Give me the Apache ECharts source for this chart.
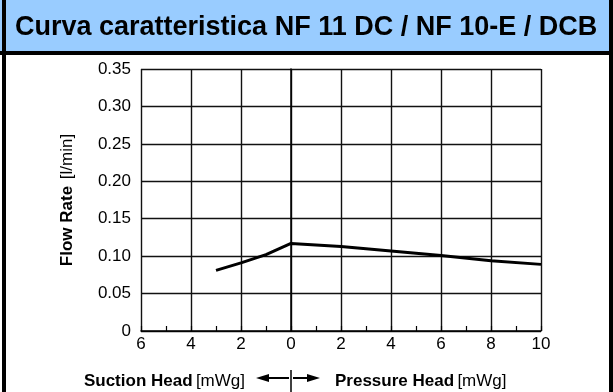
<!DOCTYPE html>
<html>
<head>
<meta charset="utf-8">
<script src="https://cdn.jsdelivr.net/npm/echarts@6/dist/echarts.min.js"></script>
<style>
html,body{margin:0;padding:0;background:#fff;}
#c{width:613px;height:392px;}
</style>
</head>
<body>
<div id="c"></div>
<script>
// Data
const headValues = [-3, -2, -1, 0, 2, 4, 6, 8, 10];          // negative = suction head, positive = pressure head [mWg]
const flowRates  = [0.081, 0.091, 0.102, 0.117, 0.113, 0.107, 0.101, 0.094, 0.089]; // [l/min]
const xTicks = [-6, -4, -2, 0, 2, 4, 6, 8, 10];
const yTicks = [0, 0.05, 0.10, 0.15, 0.20, 0.25, 0.30, 0.35];
const titleText = 'Curva caratteristica NF 11 DC / NF 10-E / DCB';

const FONT = 'Liberation Sans, Arial, Helvetica, sans-serif';
const chart = echarts.init(document.getElementById('c'), null, {renderer: 'canvas'});

chart.setOption({
  animation: false,
  backgroundColor: '#fff',
  title: {
    text: titleText,
    left: 10, top: 9,
    textStyle: {fontFamily: FONT, fontWeight: 'bold', fontSize: 27, color: '#000'}
  },
  grid: {left: 141, right: 72, top: 69, bottom: 61, containLabel: false},
  xAxis: {
    type: 'value',
    min: xTicks[0], max: xTicks[xTicks.length - 1], interval: 2,
    axisLine: {show: true, onZero: false, lineStyle: {color: '#000', width: 1.5}},
    axisTick: {show: true, inside: true, length: 5, lineStyle: {color: '#000', width: 1.2}},
    minorTick: {show: true, splitNumber: 2, length: 5, lineStyle: {color: '#000', width: 1.2}},
    splitLine: {show: true, lineStyle: {color: '#111', width: 1.4}},
    axisLabel: {fontFamily: FONT, fontSize: 17, color: '#000', margin: 5,
      formatter: v => String(Math.abs(v))}
  },
  yAxis: {
    type: 'value',
    min: yTicks[0], max: yTicks[yTicks.length - 1], interval: 0.05,
    name: '{b|Flow Rate}  {n|[l/min]}',
    nameLocation: 'middle', nameRotate: 90, nameGap: 65,
    nameTextStyle: {
      rich: {
        b: {fontFamily: FONT, fontWeight: 'bold', fontSize: 17, color: '#000'},
        n: {fontFamily: FONT, fontSize: 17, color: '#000'}
      }
    },
    axisLine: {show: true, lineStyle: {color: '#000', width: 1.5}},
    axisTick: {show: false},
    splitLine: {show: true, lineStyle: {color: '#111', width: 1.4}},
    axisLabel: {fontFamily: FONT, fontSize: 17, color: '#000', margin: 10,
      formatter: v => (v === 0 ? '0' : v.toFixed(2))}
  },
  series: [{
    type: 'line',
    data: headValues.map((h, i) => [h, flowRates[i]]),
    symbol: 'none',
    lineStyle: {color: '#000', width: 3},
    z: 5
  }],
  graphic: [
    {type: 'rect', z: -10, shape: {x: 0, y: 0, width: 613, height: 53}, style: {fill: '#99ccff'}},
    {type: 'rect', z: 10, shape: {x: 0, y: 51, width: 613, height: 4}, style: {fill: '#000'}},
    {type: 'rect', z: 10, shape: {x: 2, y: 0, width: 4, height: 392}, style: {fill: '#000'}},
    {type: 'rect', z: 10, shape: {x: 609, y: 0, width: 4, height: 392}, style: {fill: '#000'}},
    {type: 'text', z: 10, x: 245, y: 381,
      style: {text: '{b|Suction Head} {n|[mWg]}', align: 'right', verticalAlign: 'middle',
        rich: {b: {fontFamily: FONT, fontWeight: 'bold', fontSize: 17, fill: '#000'},
               n: {fontFamily: FONT, fontSize: 17, fill: '#000'}}}},
    {type: 'text', z: 10, x: 335, y: 381,
      style: {text: '{b|Pressure Head} {n|[mWg]}', align: 'left', verticalAlign: 'middle',
        rich: {b: {fontFamily: FONT, fontWeight: 'bold', fontSize: 17, fill: '#000'},
               n: {fontFamily: FONT, fontSize: 17, fill: '#000'}}}},
    {type: 'line', z: 10, shape: {x1: 291, y1: 370, x2: 291, y2: 392}, style: {stroke: '#000', lineWidth: 1.5}},
    {type: 'line', z: 10, shape: {x1: 265, y1: 378, x2: 289, y2: 378}, style: {stroke: '#000', lineWidth: 2}},
    {type: 'polygon', z: 10, shape: {points: [[256, 378], [269, 374], [269, 382]]}, style: {fill: '#000'}},
    {type: 'line', z: 10, shape: {x1: 293, y1: 378, x2: 310, y2: 378}, style: {stroke: '#000', lineWidth: 2}},
    {type: 'polygon', z: 10, shape: {points: [[320, 378], [307, 374], [307, 382]]}, style: {fill: '#000'}}
  ]
});
</script>
</body>
</html>
